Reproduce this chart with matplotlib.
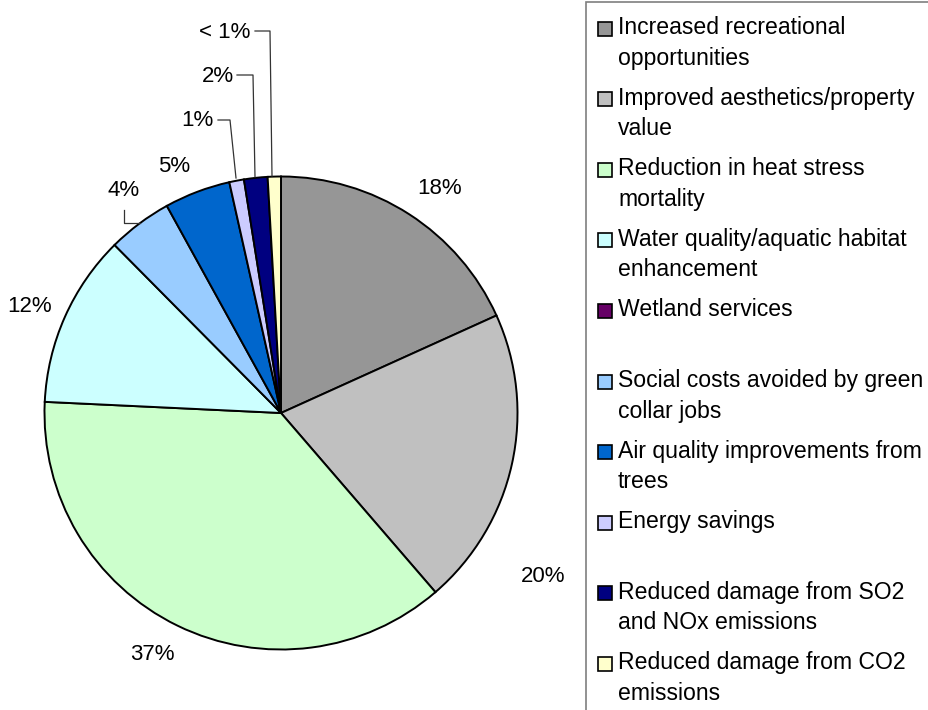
import matplotlib

matplotlib.use("Agg")

import matplotlib.pyplot as plt
from matplotlib.patches import Rectangle

plt.rcParams["font.family"] = ["Liberation Sans", "DejaVu Sans"]

categories = [
    "Increased recreational\nopportunities",
    "Improved aesthetics/property\nvalue",
    "Reduction in heat stress\nmortality",
    "Water quality/aquatic habitat\nenhancement",
    "Wetland services",
    "Social costs avoided by green\ncollar jobs",
    "Air quality improvements from\ntrees",
    "Energy savings",
    "Reduced damage from SO2\nand NOx emissions",
    "Reduced damage from CO2\nemissions",
]
shares = [18.2, 20.4, 37.0, 11.8, 0.0, 4.4, 4.5, 1.0, 1.6, 0.9]
share_labels = ["18%", "20%", "37%", "12%", "", "4%", "5%", "1%", "2%", "< 1%"]
colors = [
    "#969696", "#C0C0C0", "#CCFFCC", "#CCFFFF", "#660066",
    "#99CCFF", "#0066CC", "#CCCCFF", "#000080", "#FFFFCC",
]

W, H = 929, 710
CX, CY, R = 281, 413, 236.5


def px(x, y):
    # pixel position -> data coords (pie radius = 1)
    return (x - CX) / R, (CY - y) / R


fig = plt.figure(figsize=(W / 100, H / 100), dpi=100)
ax = fig.add_axes([0, 0, 1, 1])
ax.axis("off")

keep = [i for i, v in enumerate(shares) if v > 0]
ax.pie(
    [shares[i] for i in keep],
    colors=[colors[i] for i in keep],
    startangle=90,
    counterclock=False,
    radius=1,
    wedgeprops={"edgecolor": "black", "linewidth": 1.4},
)
ax.set_xlim(-CX / R, (W - CX) / R)
ax.set_ylim(-(H - CY) / R, CY / R)
ax.set_aspect("auto")

# label positions (pixels) and optional leader lines
label_pos = [(440, 189), (543, 576), (152, 655), (30, 306), None,
             (124, 190), (174, 166), (197, 121), (218, 76), (225, 32)]
leaders = {
    5: [(124, 210), (124, 223), (140, 223)],
    7: [(218, 120), (230, 120), (236, 178)],
    8: [(237, 75), (253, 75), (255, 177)],
    9: [(255, 31), (270, 31), (272, 176)],
}
for i, lab in enumerate(share_labels):
    if not lab:
        continue
    x, y = px(*label_pos[i])
    ax.text(x, y, lab, fontsize=16, ha="center", va="center", color="black")
    if i in leaders:
        pts = [px(*p) for p in leaders[i]]
        ax.plot([p[0] for p in pts], [p[1] for p in pts], color="#333333", lw=0.9)

# legend box
x0, y0 = px(586, 2)
x1, y1 = px(960, 740)
ax.add_patch(Rectangle((x0, y1), x1 - x0, y0 - y1, fill=False,
                       edgecolor="#7f7f7f", lw=1.2))

step = 70.6
for i, (cat, col) in enumerate(zip(categories, colors)):
    yc = 28.5 + i * step
    mx, my = px(598, yc + 7)
    ax.add_patch(Rectangle((mx, my), 14 / R, 14 / R, facecolor=col,
                           edgecolor="black", lw=1.2))
    tx, ty = px(618, yc - 12.5)
    ax.text(tx, ty, cat, fontsize=16.6, ha="left", va="top",
            linespacing=1.42, color="black")

fig.savefig("out.png", dpi=100)
